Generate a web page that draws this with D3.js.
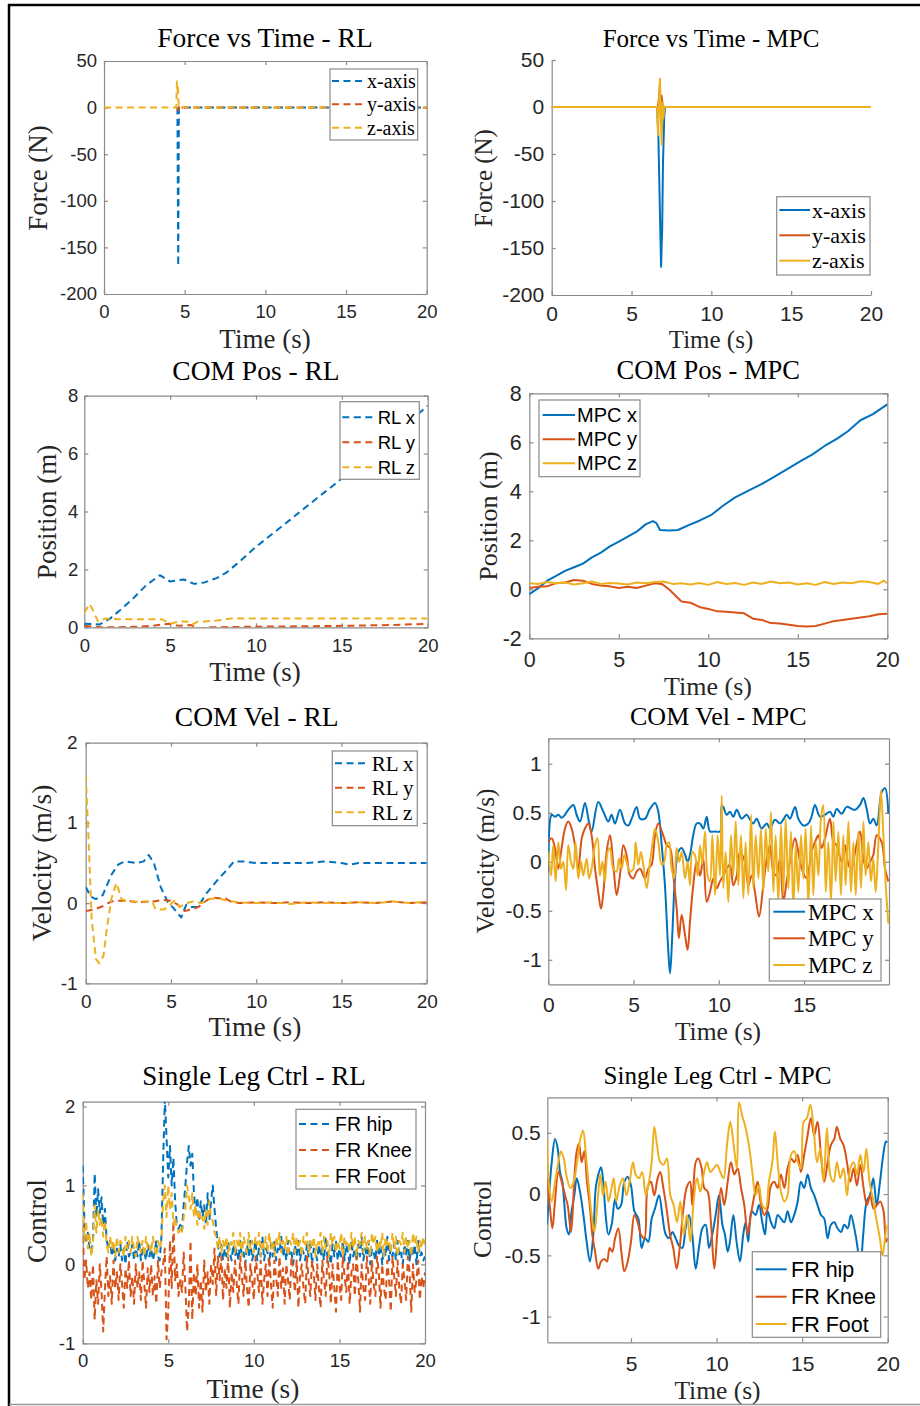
<!DOCTYPE html>
<html><head><meta charset="utf-8">
<script src="https://cdn.jsdelivr.net/npm/d3@7"></script>
<style>body{margin:0;background:#fff}</style></head>
<body>
<script>
// ---------------- DATA ----------------
const seriesNamesForce = ["x-axis","y-axis","z-axis"];
const seriesNamesPosRL = ["RL x","RL y","RL z"];
const seriesNamesPosMPC = ["MPC x","MPC y","MPC z"];
const seriesNamesCtrl = ["FR hip","FR Knee","FR Foot"];

// Force vs Time - RL  [t, N]
const forceRLx = [[4.55,0],[4.6,-170],[4.64,0],[4.7,0],[20,0]];
const forceRLy = [[4.55,0],[4.6,-3],[4.65,2],[4.7,0],[20,0]];
const forceRLz = [[0,0],[4.48,0],[4.52,28],[4.56,18],[4.58,24],[4.62,6],[4.66,0],[20,0]];
// Force vs Time - MPC
const forceMPCx = [[0,0],[6.6,0],[6.68,-30],[6.85,-170],[6.92,-130],[6.97,-60],[7.05,-10],[7.1,0],[20,0]];
const forceMPCy = [[0,0],[6.65,0],[6.72,10],[6.78,25],[6.82,-5],[6.88,12],[6.95,2],[7.05,0],[20,0]];
const forceMPCz = [[0,0],[6.6,0],[6.66,-30],[6.73,10],[6.78,30],[6.83,-8],[6.89,-40],[6.95,5],[7.0,-12],[7.05,0],[20,0]];

// COM Pos - RL
const posRLx = [[0,0.12],[0.9,0.1],[1.5,0.3],[2,0.55],[2.85,1.0],[3.6,1.45],[4.4,1.8],[5,1.58],[5.4,1.62],[5.8,1.65],[6.4,1.5],[7,1.55],[7.7,1.7],[8.3,1.9],[9,2.25],[10,2.78],[11,3.25],[12,3.72],[13,4.2],[14,4.67],[14.5,4.9],[15,5.15],[16,5.65],[17,6.15],[18,6.65],[19,7.15],[20,7.65]];
const posRLy = [[0,0.05],[1,0],[2,0],[3,0.02],[4,0.05],[4.6,0.1],[5,0.12],[5.5,0.05],[6.2,0.08],[6.7,-0.05],[7.2,0],[10,0.02],[15,0.05],[18,0.08],[20,0.12]];
const posRLz = [[0,0.5],[0.3,0.8],[0.5,0.6],[0.8,0.2],[1.2,0.3],[2,0.28],[3,0.28],[4.5,0.28],[5,0.12],[5.5,0.2],[6,0.2],[6.3,0.1],[6.6,0.2],[7,0.2],[8,0.25],[8.5,0.3],[20,0.3]];
// COM Pos - MPC
const posMPCx = [[0,-0.2],[0.5,0.05],[1,0.35],[1.5,0.55],[2,0.75],[2.5,0.9],[3,1.05],[3.5,1.3],[4,1.5],[4.5,1.75],[5,1.95],[5.5,2.15],[6,2.35],[6.5,2.65],[6.9,2.78],[7.1,2.7],[7.3,2.42],[7.8,2.4],[8.3,2.42],[9,2.65],[9.5,2.8],[10.2,3.05],[10.8,3.4],[11.5,3.75],[12.3,4.05],[13,4.3],[13.7,4.6],[14.5,4.95],[15.2,5.25],[15.8,5.5],[16.5,5.85],[17.2,6.15],[17.8,6.45],[18.5,6.9],[19.2,7.15],[20,7.55]];
const posMPCy = [[0,0.05],[0.5,0.1],[1,0.12],[1.5,0.25],[2,0.28],[2.5,0.38],[3,0.35],[3.5,0.22],[4,0.15],[4.5,0.12],[5,0.05],[5.5,0.1],[6,0.05],[6.5,0.15],[7,0.25],[7.4,0.22],[7.8,0],[8.5,-0.5],[9,-0.55],[9.5,-0.72],[10,-0.8],[10.5,-0.9],[11,-0.92],[11.5,-0.95],[12,-0.98],[12.5,-1.2],[13,-1.25],[13.5,-1.38],[14,-1.4],[14.5,-1.45],[15,-1.5],[15.5,-1.52],[16,-1.5],[16.5,-1.4],[17,-1.3],[17.5,-1.25],[18,-1.2],[18.5,-1.15],[19,-1.1],[19.5,-1.02],[20,-1.0]];
const posMPCz = [[0,0.25],[0.5,0.22],[1,0.3],[1.5,0.25],[2,0.28],[2.5,0.2],[3,0.25],[3.5,0.32],[4,0.22],[4.5,0.26],[5,0.24],[5.5,0.2],[6,0.28],[6.5,0.25],[7,0.3],[7.5,0.32],[8,0.22],[8.5,0.25],[9,0.2],[9.5,0.26],[10,0.18],[10.5,0.3],[11,0.22],[11.5,0.26],[12,0.18],[12.5,0.28],[13,0.22],[13.5,0.32],[14,0.25],[14.5,0.28],[15,0.2],[15.5,0.25],[16,0.18],[16.5,0.3],[17,0.22],[17.5,0.28],[18,0.25],[18.5,0.33],[19,0.3],[19.5,0.22],[19.8,0.35],[20,0.25]];

// COM Vel - RL
const velRLx = [[0,0.2],[0.3,0.08],[0.6,0.05],[1,0.1],[1.5,0.35],[1.9,0.48],[2.3,0.52],[3,0.5],[3.4,0.52],[3.7,0.6],[4,0.5],[4.4,0.2],[4.8,0.02],[5.1,-0.05],[5.6,-0.18],[5.9,-0.02],[6.2,-0.05],[6.6,-0.05],[7,0.1],[7.7,0.28],[8.3,0.42],[8.7,0.52],[9.2,0.52],[10,0.5],[12,0.5],[13,0.5],[14,0.52],[15,0.5],[15.5,0.48],[16,0.5],[20,0.5]];
const velRLy = [[0,-0.1],[0.5,-0.08],[1,-0.04],[1.5,0.02],[1.8,0.03],[2.5,0.03],[3,0.01],[4,0.02],[4.5,0.04],[5,0.03],[5.4,-0.02],[5.8,-0.1],[6.2,-0.08],[6.6,-0.05],[7,0.02],[7.4,0.07],[7.8,0.06],[8.2,0.06],[8.5,0.02],[9,0],[10,0.01],[11,0],[12,0.01],[13,0],[14,0.01],[15,0],[16,0.01],[17,0],[18,0.02],[19,0],[20,0.01]];
const velRLz = [[0,1.6],[0.15,0.9],[0.35,-0.2],[0.6,-0.7],[0.8,-0.75],[1.05,-0.65],[1.25,-0.3],[1.5,0.05],[1.8,0.25],[2.1,0.05],[2.5,0.02],[3,0.02],[3.5,0.02],[3.9,0.02],[4.1,-0.08],[4.6,-0.08],[4.9,-0.03],[5.2,0.03],[5.5,-0.05],[5.9,0],[6.3,0.02],[6.8,0],[7.2,0.05],[7.8,0.06],[8.3,0.03],[9,0.01],[10,0],[11,0.01],[12,-0.01],[13,0.01],[14,0],[15,0],[16,0.01],[17,0],[18,0.02],[19,0],[20,0.02]];

// COM Vel - MPC
const velMPCx = [[0,-0.1],[0.2,0.48],[0.39,0.46],[0.59,0.48],[0.78,0.45],[0.98,0.48],[1.17,0.53],[1.47,0.58],[1.66,0.48],[1.86,0.41],[2.15,0.6],[2.35,0.44],[2.54,0.31],[2.93,0.61],[3.23,0.51],[3.52,0.41],[3.71,0.48],[3.91,0.39],[4.2,0.53],[4.5,0.39],[4.69,0.37],[4.89,0.44],[5.18,0.56],[5.38,0.44],[5.67,0.44],[5.96,0.54],[6.26,0.6],[6.45,0.51],[6.65,0.17],[6.84,-0.24],[7.04,-0.92],[7.14,-1.14],[7.27,-0.75],[7.43,-0.17],[7.62,0.1],[7.82,0.14],[8.02,0.07],[8.17,0],[8.31,0.07],[8.5,0.27],[8.7,0.39],[8.9,0.39],[9.09,0.34],[9.29,0.46],[9.48,0.31],[9.78,0.31],[10.07,0.31],[10.17,0.57],[10.26,0.56],[10.46,0.48],[10.65,0.51],[10.85,0.46],[11.05,0.53],[11.34,0.44],[11.63,0.48],[11.83,0.43],[12.02,0.39],[12.22,0.44],[12.51,0.34],[12.81,0.39],[13,0.34],[13.29,0.43],[13.59,0.39],[13.78,0.43],[13.98,0.48],[14.17,0.44],[14.47,0.56],[14.66,0.44],[14.96,0.37],[15.25,0.39],[15.44,0.46],[15.64,0.58],[15.93,0.46],[16.23,0.48],[16.52,0.51],[16.72,0.46],[16.91,0.54],[17.2,0.49],[17.5,0.56],[17.79,0.54],[17.99,0.53],[18.28,0.58],[18.48,0.65],[18.67,0.54],[18.87,0.39],[19.06,0.44],[19.26,0.37],[19.55,0.71],[19.75,0.75],[19.94,0.49]];
const velMPCy = [[0,0.2],[0.2,0.24],[0.39,0.14],[0.59,-0.07],[0.78,0.14],[0.98,0.34],[1.17,0.41],[1.37,0.34],[1.56,0.17],[1.76,-0.07],[1.96,0.24],[2.15,0.34],[2.35,0.39],[2.54,0.27],[2.74,-0.07],[2.93,-0.31],[3.09,-0.48],[3.23,-0.31],[3.42,0.1],[3.62,0.27],[3.81,-0.03],[4.01,-0.34],[4.2,-0.14],[4.4,0.17],[4.59,0.07],[4.79,-0.14],[4.99,-0.17],[5.18,-0.1],[5.38,-0.07],[5.67,-0.17],[5.87,-0.07],[6.06,-0.03],[6.26,0.27],[6.45,0.39],[6.74,0.27],[6.94,0.17],[7.14,0.14],[7.33,-0.14],[7.53,-0.48],[7.66,-0.78],[7.82,-0.54],[8.02,-0.75],[8.17,-0.9],[8.31,-0.61],[8.5,-0.24],[8.7,0],[8.9,-0.14],[9.09,0.03],[9.29,-0.41],[9.48,-0.31],[9.68,-0.17],[9.87,-0.27],[10.07,-0.2],[10.26,-0.14],[10.46,-0.07],[10.65,-0.03],[10.85,-0.24],[11.05,-0.14],[11.24,0.1],[11.53,0],[11.73,-0.24],[11.93,-0.14],[12.12,-0.31],[12.36,-0.56],[12.61,-0.24],[12.81,0.03],[13,0.17],[13.2,-0.1],[13.39,-0.14],[13.59,0.03],[13.78,-0.41],[13.98,-0.2],[14.17,0],[14.47,0.24],[14.66,0.1],[14.86,-0.07],[15.15,-0.17],[15.44,0.1],[15.64,0.2],[15.84,0.27],[16.03,0.14],[16.23,0.24],[16.52,0.44],[16.72,0.2],[16.91,0.17],[17.2,0],[17.4,0.17],[17.6,-0.03],[17.79,-0.07],[17.99,0.1],[18.28,0.31],[18.48,0.03],[18.67,-0.07],[18.87,0],[19.06,0.07],[19.26,0.27],[19.55,0.2],[19.75,-0.07],[19.94,-0.2]];
const velMPCz = [[0,0.1],[0.16,-0.14],[0.29,0.17],[0.43,-0.2],[0.59,0.2],[0.74,-0.07],[0.88,0],[1.04,-0.29],[1.17,0.17],[1.33,0],[1.47,-0.07],[1.6,0.2],[1.76,-0.17],[1.92,0],[2.05,-0.14],[2.25,0.03],[2.39,-0.17],[2.54,-0.07],[2.74,0.17],[2.89,0.24],[3.03,-0.14],[3.17,0],[3.32,-0.2],[3.48,0.1],[3.62,0.14],[3.81,-0.07],[4.01,-0.1],[4.14,0.03],[4.3,-0.07],[4.46,0.07],[4.59,0],[4.79,-0.1],[4.99,-0.07],[5.12,0.2],[5.28,-0.03],[5.43,0.1],[5.57,-0.03],[5.77,-0.27],[5.96,0],[6.1,0.17],[6.26,0.34],[6.45,0.2],[6.65,-0.03],[6.8,0],[6.94,0.17],[7.08,0.2],[7.23,-0.07],[7.39,-0.17],[7.53,0.14],[7.68,0],[7.82,0.1],[8.02,-0.17],[8.17,0],[8.31,-0.24],[8.45,0.1],[8.6,0.07],[8.76,-0.14],[8.9,0.17],[9.03,-0.03],[9.19,0.31],[9.34,-0.14],[9.48,-0.2],[9.62,0.27],[9.78,-0.34],[9.93,0.27],[10.07,-0.14],[10.17,0.68],[10.26,-0.27],[10.4,0.1],[10.56,-0.41],[10.71,0.27],[10.85,-0.14],[10.99,0.41],[11.14,-0.24],[11.3,0.27],[11.44,-0.37],[11.57,0.2],[11.73,-0.34],[11.89,0.48],[12.02,-0.27],[12.16,0.27],[12.32,-0.17],[12.47,0.34],[12.61,-0.31],[12.75,0.34],[12.9,-0.1],[13.06,0.51],[13.2,-0.31],[13.33,0.27],[13.49,-0.41],[13.65,0.37],[13.78,-0.34],[13.92,0.44],[14.08,-0.27],[14.23,0.31],[14.37,-0.48],[14.51,0.17],[14.66,-0.31],[14.82,0.27],[14.96,-0.17],[15.09,0.34],[15.25,-0.44],[15.41,0.37],[15.54,-0.34],[15.68,0.2],[15.84,-0.14],[15.99,0.44],[16.13,0.58],[16.27,-0.31],[16.42,0.2],[16.58,-0.41],[16.72,0.41],[16.85,-0.2],[17.01,0.31],[17.16,-0.34],[17.3,0.27],[17.44,-0.24],[17.6,0.41],[17.75,-0.31],[17.89,0.2],[18.03,-0.34],[18.18,0.31],[18.34,-0.27],[18.48,0.41],[18.61,-0.14],[18.77,0.2],[18.92,-0.2],[19.06,0.03],[19.2,-0.31],[19.36,0.2],[19.51,0.73],[19.65,0.27],[19.79,-0.24],[19.94,-0.63]];

// Single Leg Ctrl - RL (sampled every 0.1 s from t = 0)
const ctrlRLStep = 0.1;
const ctrlRLHip = [1.25,0.55,0.3,0.4,0.2,0.15,0.3,1.15,0.6,0.95, 0.65,0.85,0.5,0.7,0.3,0.2,0.3,0.1,0.25,0.05, 0.2,0.1,0.25,0.05,0.2,0.0,0.3,0.1,0.15,0.25, 0.05,0.2,0.1,0.3,0.05,0.2,0.15,0.05,0.25,0.1, 0.2,0.05,0.15,0.3,0.1,0.05,0.35,1.3,2.1,1.6, 1.1,1.5,1.0,1.35,0.8,0.5,0.45,0.5,0.42,0.75, 1.0,1.3,1.5,1.25,1.4,0.9,0.65,0.85,0.55,0.8, 0.6,0.75,0.5,0.9,0.55,0.8,1.0,0.7,0.45,0.25, 0.1,0.25,0.05,0.2,0.1,0.3,0.15,0.05,0.25,0.1, 0.2,0.05,0.3,0.1,0.15,0.0,0.25,0.1,0.3,0.05, 0.15,0.3,0.05,0.2,0.1,0.35,0.05,0.2,0.15,0.0, 0.25,0.1,0.3,0.05,0.2,0.15,0.35,0.1,0.2,0.05, 0.3,0.1,0.15,0.0,0.25,0.1,0.3,0.05,0.2,0.15, 0.05,0.25,0.1,0.3,0.0,0.2,0.15,0.05,0.25,0.1, 0.2,0.05,0.35,0.1,0.15,0.0,0.25,0.1,0.3,0.05, 0.2,0.1,0.3,0.05,0.25,0.15,0.0,0.3,0.1,0.2, 0.05,0.25,0.1,0.35,0.05,0.2,0.1,0.3,0.0,0.2, 0.15,0.05,0.3,0.1,0.25,0.0,0.2,0.1,0.35,0.05, 0.2,0.1,0.25,0.05,0.3,0.1,0.15,0.0,0.25,0.1, 0.3,0.05,0.2,0.1,0.25,0.0,0.3,0.1,0.15,0.05, 0.1];
const ctrlRLKnee = [0.5,-0.2,0.05,-0.3,-0.1,-0.45,0.0,-0.7,-0.2,-0.5, 0.0,-0.35,-0.85,-0.3,0.1,-0.4,-0.15,-0.5,0.05,-0.3, -0.1,-0.45,0.0,-0.25,-0.55,-0.05,-0.3,0.05,-0.4,-0.15, -0.5,0.0,-0.3,-0.1,-0.45,0.05,-0.25,-0.55,-0.05,-0.35, 0.0,-0.4,-0.15,-0.5,0.05,-0.3,-0.1,0.0,0.2,-0.95, -0.6,0.3,-0.3,0.55,-0.2,0.0,-0.4,-0.2,-0.35,0.15, -0.3,-0.85,-0.5,0.3,-0.7,-0.1,-0.4,0.0,-0.55,-0.2, -0.6,0.05,-0.35,-0.1,-0.5,0.0,-0.25,0.2,-0.4,0.1, -0.2,0.1,-0.45,-0.05,-0.3,0.1,-0.55,-0.1,-0.35,0.05, -0.25,-0.5,0.1,-0.15,-0.4,0.05,-0.3,-0.55,0.0,-0.2, -0.45,0.1,-0.1,-0.35,0.05,-0.5,-0.2,0.0,-0.4,0.1, -0.25,-0.55,0.05,-0.15,-0.4,0.1,-0.3,-0.05,-0.5,0.0, -0.2,-0.45,0.1,-0.1,-0.35,0.05,-0.55,-0.15,0.0,-0.3, -0.5,0.1,-0.2,-0.4,0.05,-0.1,-0.45,0.0,-0.3,-0.55, 0.05,-0.2,-0.4,0.1,-0.1,-0.5,0.0,-0.3,-0.6,0.05, -0.25,-0.45,0.1,-0.15,-0.35,0.05,-0.5,-0.1,0.0,-0.4, 0.1,-0.2,-0.6,0.0,-0.3,-0.45,0.1,-0.15,-0.5,0.05, -0.25,-0.4,0.1,-0.1,-0.55,0.0,-0.3,-0.45,0.05,-0.2, -0.6,0.1,-0.15,-0.4,0.05,-0.3,-0.5,0.0,-0.2,-0.45, 0.1,-0.1,-0.6,0.0,-0.35,-0.2,0.05,-0.45,-0.15,-0.3, -0.1];
const ctrlRLFoot = [0.9,0.3,0.55,0.2,0.4,0.1,0.25,0.75,0.4,0.7, 0.5,0.6,0.35,0.55,0.25,0.15,0.35,0.2,0.3,0.1, 0.35,0.15,0.3,0.25,0.1,0.35,0.2,0.3,0.15,0.35, 0.2,0.1,0.35,0.25,0.15,0.3,0.1,0.35,0.2,0.25, 0.15,0.35,0.2,0.1,0.3,0.2,0.3,0.8,1.0,0.6, 1.0,0.7,0.9,0.5,0.6,0.45,0.4,0.45,0.4,0.6, 0.7,1.0,0.85,0.7,0.9,0.6,0.75,0.5,0.7,0.55, 0.6,0.45,0.7,0.5,0.8,0.6,0.55,0.4,0.35,0.2, 0.35,0.15,0.3,0.2,0.35,0.1,0.3,0.25,0.4,0.15, 0.3,0.2,0.4,0.1,0.35,0.25,0.15,0.4,0.2,0.3, 0.15,0.35,0.25,0.4,0.1,0.3,0.2,0.35,0.15,0.4, 0.2,0.3,0.1,0.35,0.25,0.4,0.15,0.3,0.2,0.35, 0.1,0.3,0.25,0.4,0.15,0.35,0.2,0.3,0.1,0.35, 0.25,0.4,0.15,0.3,0.2,0.35,0.1,0.3,0.25,0.4, 0.15,0.35,0.2,0.3,0.1,0.4,0.25,0.35,0.15,0.3, 0.2,0.4,0.1,0.35,0.25,0.3,0.15,0.4,0.2,0.35, 0.1,0.3,0.25,0.4,0.15,0.35,0.2,0.3,0.1,0.4, 0.25,0.35,0.15,0.3,0.2,0.4,0.1,0.35,0.25,0.3, 0.15,0.4,0.2,0.35,0.1,0.3,0.25,0.4,0.15,0.35, 0.2,0.3,0.1,0.4,0.25,0.35,0.15,0.3,0.2,0.35, 0.25];

// Single Leg Ctrl - MPC  [t, value]
const ctrlMPCHip = [[0.1,-0.25],[0.21,-0.01],[0.37,0.26],[0.56,0.45],[0.72,0.37],[0.85,0.18],[0.99,0.1],[1.11,-0.09],[1.24,-0.28],[1.38,-0.33],[1.53,-0.14],[1.69,-0.01],[1.83,0.13],[2.02,0.02],[2.22,-0.17],[2.41,-0.39],[2.6,-0.55],[2.8,-0.33],[2.94,0.05],[3.09,0.16],[3.25,0.22],[3.38,0.1],[3.52,-0.17],[3.68,-0.33],[3.87,-0.25],[4.07,-0.04],[4.22,-0.12],[4.42,-0.09],[4.61,0.1],[4.81,0.14],[5.0,0.07],[5.2,-0.14],[5.43,-0.2],[5.62,-0.44],[5.82,-0.36],[6.01,-0.39],[6.21,-0.2],[6.4,-0.12],[6.64,-0.01],[6.83,-0.17],[7.03,-0.33],[7.22,-0.36],[7.42,-0.31],[7.61,-0.36],[7.8,-0.42],[8.0,-0.44],[8.19,-0.28],[8.39,-0.17],[8.58,-0.33],[8.78,-0.61],[8.97,-0.44],[9.17,-0.28],[9.36,-0.25],[9.56,-0.44],[9.75,-0.33],[9.95,-0.17],[10.14,-0.01],[10.34,-0.25],[10.49,-0.33],[10.65,-0.47],[10.78,-0.39],[10.98,-0.17],[11.17,-0.39],[11.37,-0.55],[11.56,-0.33],[11.7,-0.23],[11.85,-0.39],[12.05,-0.14],[12.28,-0.17],[12.48,-0.09],[12.67,-0.23],[12.83,-0.33],[12.98,-0.14],[13.18,-0.23],[13.37,-0.28],[13.57,-0.17],[13.76,-0.2],[13.96,-0.23],[14.15,-0.14],[14.35,-0.23],[14.54,-0.17],[14.74,-0.06],[14.93,0.1],[15.12,0.05],[15.32,0.16],[15.51,0.05],[15.71,-0.01],[15.9,-0.09],[16.1,-0.17],[16.29,-0.2],[16.49,-0.36],[16.68,-0.25],[16.88,-0.23],[17.07,-0.28],[17.27,-0.31],[17.46,-0.25],[17.66,-0.28],[17.85,-0.17],[18.05,-0.28],[18.24,-0.44],[18.38,-0.66],[18.57,-0.33],[18.77,-0.06],[18.96,-0.01],[19.16,0.13],[19.35,-0.09],[19.55,0.1],[19.74,0.32],[19.9,0.43],[20,0.42]];
const ctrlMPCKnee = [[0.1,0.13],[0.25,-0.09],[0.41,-0.28],[0.56,-0.06],[0.76,0.18],[0.95,0.1],[1.15,-0.01],[1.3,-0.09],[1.5,-0.31],[1.69,0.13],[1.83,0.35],[1.96,0.41],[2.12,0.26],[2.27,0.35],[2.43,0.1],[2.59,-0.09],[2.74,-0.33],[2.9,-0.47],[3.09,-0.61],[3.25,-0.55],[3.44,-0.53],[3.6,-0.55],[3.75,-0.44],[3.91,-0.47],[4.07,-0.36],[4.26,-0.28],[4.46,-0.5],[4.61,-0.63],[4.81,-0.55],[5.0,-0.39],[5.2,-0.17],[5.39,-0.23],[5.58,-0.33],[5.78,-0.36],[5.97,0.05],[6.17,0.1],[6.36,-0.01],[6.56,0.13],[6.71,0.18],[6.89,0.05],[7.08,-0.12],[7.28,-0.33],[7.47,-0.44],[7.67,-0.61],[7.86,-0.42],[8.06,-0.12],[8.25,0.05],[8.45,0.1],[8.58,-0.09],[8.78,0.26],[8.93,0.29],[9.13,0.21],[9.28,0.05],[9.48,0.02],[9.67,-0.23],[9.87,-0.61],[10.06,-0.28],[10.26,0.05],[10.45,-0.09],[10.65,0.1],[10.84,0.26],[11.04,0.16],[11.23,0.21],[11.43,0.05],[11.62,-0.09],[11.82,-0.33],[12.01,-0.17],[12.21,-0.01],[12.4,0.1],[12.6,-0.09],[12.79,-0.17],[12.98,-0.12],[13.18,0.07],[13.37,0.1],[13.57,0.05],[13.76,0.16],[13.96,0.05],[14.15,0.21],[14.35,0.29],[14.54,0.26],[14.74,0.32],[14.93,0.18],[15.12,0.32],[15.32,0.48],[15.51,0.62],[15.71,0.48],[15.9,0.59],[16.1,0.32],[16.29,0.1],[16.49,0.26],[16.68,0.4],[16.88,0.45],[17.03,0.55],[17.23,0.45],[17.42,0.4],[17.62,0.26],[17.81,0.1],[18.01,0.21],[18.2,0.07],[18.4,0.24],[18.59,0.05],[18.79,-0.09],[18.98,-0.01],[19.17,-0.12],[19.37,-0.09],[19.56,-0.06],[19.76,-0.14],[19.9,-0.39],[20,-0.36]];
const ctrlMPCFoot = [[0.1,0.45],[0.21,0.07],[0.37,-0.06],[0.56,0.1],[0.76,0.26],[0.91,0.35],[1.07,0.29],[1.26,0.13],[1.46,0.05],[1.65,0.1],[1.85,0.26],[2.04,0.45],[2.2,0.52],[2.35,0.35],[2.51,0.1],[2.7,-0.17],[2.86,-0.31],[3.05,-0.06],[3.21,0.16],[3.36,-0.01],[3.52,0.1],[3.68,-0.06],[3.83,0.02],[3.99,0.13],[4.14,-0.06],[4.34,0.07],[4.53,0.13],[4.73,-0.01],[4.92,0.1],[5.12,0.26],[5.27,0.16],[5.47,0.13],[5.66,0.18],[5.86,-0.01],[6.05,0.1],[6.21,0.26],[6.36,0.55],[6.52,0.4],[6.71,0.26],[6.91,0.24],[7.1,0.29],[7.3,-0.01],[7.49,-0.09],[7.69,-0.23],[7.88,-0.06],[8.08,-0.33],[8.27,-0.17],[8.47,-0.39],[8.66,-0.06],[8.86,0.13],[9.05,0.02],[9.25,0.16],[9.44,0.26],[9.63,0.18],[9.83,0.21],[10.02,0.24],[10.22,0.18],[10.41,0.13],[10.61,0.4],[10.8,0.59],[11.0,0.4],[11.19,0.21],[11.31,0.75],[11.5,0.64],[11.7,0.54],[11.89,0.4],[12.09,0.18],[12.28,-0.01],[12.48,0.07],[12.67,-0.09],[12.87,-0.12],[13.06,0.1],[13.26,0.26],[13.41,0.51],[13.57,0.26],[13.76,0.02],[13.96,-0.06],[14.15,-0.01],[14.35,0.32],[14.54,0.35],[14.74,0.26],[14.93,0.21],[15.09,0.59],[15.28,0.62],[15.48,0.73],[15.67,0.54],[15.87,0.26],[16.06,0.37],[16.25,0.1],[16.45,0.54],[16.64,0.16],[16.84,0.1],[17.03,0.26],[17.23,0.13],[17.42,0.21],[17.62,-0.01],[17.81,0.21],[18.01,0.26],[18.2,0.16],[18.4,0.32],[18.59,0.18],[18.75,0.37],[18.94,0.1],[19.14,-0.04],[19.33,-0.2],[19.53,-0.35],[19.7,-0.5],[19.9,-0.3],[20,-0.25]];

// Tick labels
const ticksT20 = [0,5,10,15,20];
const ticksT15 = [0,5,10,15];
const ticksT5to20 = [5,10,15,20];
const ticksForce = [-200,-150,-100,-50,0,50];
const ticksPosRL = [0,2,4,6,8];
const ticksPosMPC = [-2,0,2,4,6,8];
const ticksVelRL = [-1,0,1,2];
const ticksVelMPC = [-1,-0.5,0,0.5,1];
const ticksCtrlRL = [-1,0,1,2];
const ticksCtrlMPC = [-1,-0.5,0,0.5];

// ---------------- DRAWING ----------------
const COL = ["#0072BD","#D95319","#EDB120"];
const SERIF = "'Liberation Serif','Times New Roman',serif";
const SANS = "'Liberation Sans',Arial,Helvetica,sans-serif";
const AXC = "#8a8a8a", TXT = "#262626";
const DASH = "7,4.5";

const svg = d3.select("body").append("svg").attr("width",920).attr("height",1406);
svg.append("rect").attr("width",920).attr("height",1406).attr("fill","#fff");
// figure frame
svg.append("line").attr("x1",9).attr("x2",9).attr("y1",4).attr("y2",1406).attr("stroke","#000").attr("stroke-width",2.5);
svg.append("line").attr("x1",8).attr("x2",920).attr("y1",5).attr("y2",5).attr("stroke","#000").attr("stroke-width",2.5);
svg.append("line").attr("x1",9).attr("x2",920).attr("y1",1404.5).attr("y2",1404.5).attr("stroke","#999").attr("stroke-width",1.5);

let clipN = 0;
function panel(p){
  const x = d3.scaleLinear().domain(p.xd).range([p.l,p.r]);
  const y = d3.scaleLinear().domain(p.yd).range([p.b,p.t]);
  const g = svg.append("g");
  const cid = "clip"+(clipN++);
  g.append("clipPath").attr("id",cid).append("rect")
    .attr("x",p.l).attr("y",p.t).attr("width",p.r-p.l).attr("height",p.b-p.t);
  const TK = 4;
  const styleAxis = sel => {
    sel.selectAll(".domain").attr("stroke",AXC).attr("stroke-width",1.2);
    sel.selectAll(".tick line").attr("stroke",AXC).attr("stroke-width",1.2);
    sel.selectAll(".tick text").attr("fill",TXT).attr("font-family",SANS).attr("font-size",p.tickSize);
  };
  const fmt = d => String(d);
  g.append("g").attr("transform",`translate(0,${p.b})`)
    .call(d3.axisBottom(x).tickValues(p.xt).tickFormat(fmt).tickSizeInner(-TK).tickSizeOuter(0).tickPadding(p.xpad))
    .call(styleAxis);
  g.append("g").attr("transform",`translate(${p.l},0)`)
    .call(d3.axisLeft(y).tickValues(p.yt).tickFormat(fmt).tickSizeInner(-TK).tickSizeOuter(0).tickPadding(p.ypad))
    .call(styleAxis);
  if(p.box){
    g.append("g").attr("transform",`translate(0,${p.t})`)
      .call(d3.axisTop(x).tickValues(p.xt).tickFormat("").tickSizeInner(-TK).tickSizeOuter(0)).call(styleAxis);
    g.append("g").attr("transform",`translate(${p.r},0)`)
      .call(d3.axisRight(y).tickValues(p.yt).tickFormat("").tickSizeInner(-TK).tickSizeOuter(0)).call(styleAxis);
  }
  const line = d3.line().x(d=>x(d[0])).y(d=>y(d[1]));
  if(p.smooth) line.curve(d3.curveCatmullRom.alpha(0.5));
  const lg = g.append("g").attr("clip-path",`url(#${cid})`);
  p.series.forEach((s,i)=>{
    lg.append("path").datum(s).attr("d",line).attr("fill","none")
      .attr("stroke",COL[i]).attr("stroke-width",2).attr("stroke-linejoin","round")
      .attr("stroke-dasharray",p.dashed?DASH:null);
  });
  // title
  g.append("text").attr("x",p.titleX).attr("y",p.titleY).attr("text-anchor","middle")
    .attr("font-family",SERIF).attr("font-size",p.titleSize).attr("fill","#000").text(p.title);
  // x label
  g.append("text").attr("x",p.xlX).attr("y",p.xlY).attr("text-anchor","middle")
    .attr("font-family",SERIF).attr("font-size",p.labelSize).attr("fill",TXT).text("Time (s)");
  // y label
  g.append("text").attr("transform",`translate(${p.ylX},${p.ylY}) rotate(-90)`).attr("text-anchor","middle")
    .attr("font-family",SERIF).attr("font-size",p.labelSize).attr("fill",TXT).text(p.ylabel);
  // legend
  const L = p.legend;
  g.append("rect").attr("x",L.x0).attr("y",L.y0).attr("width",L.x1-L.x0).attr("height",L.y1-L.y0)
    .attr("fill","#fff").attr("stroke",AXC).attr("stroke-width",1.2);
  p.names.forEach((n,i)=>{
    const yy = L.rows[i];
    g.append("line").attr("x1",L.lx0).attr("x2",L.lx1).attr("y1",yy).attr("y2",yy)
      .attr("stroke",COL[i]).attr("stroke-width",2).attr("stroke-dasharray",p.dashed?DASH:null);
    g.append("text").attr("x",L.tx).attr("y",yy).attr("dy","0.35em")
      .attr("font-family",L.serif?SERIF:SANS).attr("font-size",L.size).attr("fill","#000").text(n);
  });
}

const ctrlRLSeries = [ctrlRLHip, ctrlRLKnee, ctrlRLFoot].map(a => a.map((v,i)=>[i*ctrlRLStep, v]));

panel({l:104,r:426.7,t:61,b:294,xd:[0,20],yd:[-200,50],xt:ticksT20,yt:ticksForce,box:true,dashed:true,
  xpad:11,ypad:7,tickSize:18.5,title:"Force vs Time - RL",titleX:265,titleY:47,titleSize:27.5,
  labelSize:27,xlX:265,xlY:348,ylX:47,ylY:178,ylabel:"Force (N)",
  series:[forceRLx,forceRLy,forceRLz],names:seriesNamesForce,
  legend:{x0:330,y0:69,x1:417.7,y1:140,rows:[81,104.3,127.7],lx0:332,lx1:365,tx:367,size:20,serif:true}});

panel({l:551.7,r:871,t:60,b:295,xd:[0,20],yd:[-200,50],xt:ticksT20,yt:ticksForce,box:false,dashed:false,
  xpad:11,ypad:7.5,tickSize:21,title:"Force vs Time - MPC",titleX:711,titleY:47,titleSize:25,
  labelSize:25,xlX:711,xlY:348,ylX:492,ylY:178,ylabel:"Force (N)",
  series:[forceMPCx,forceMPCy,forceMPCz],names:seriesNamesForce,
  legend:{x0:776.7,y0:196.7,x1:870,y1:275,rows:[210,235.3,260.7],lx0:779.3,lx1:810,tx:812,size:22,serif:true}});

panel({l:84.3,r:427.7,t:395.7,b:627.3,xd:[0,20],yd:[0,8],xt:ticksT20,yt:ticksPosRL,box:true,dashed:true,
  xpad:12,ypad:6,tickSize:18.5,title:"COM Pos - RL",titleX:256,titleY:380,titleSize:27.5,
  labelSize:27,xlX:255,xlY:681,ylX:56,ylY:512,ylabel:"Position (m)",
  series:[posRLx,posRLy,posRLz],names:seriesNamesPosRL,
  legend:{x0:340,y0:401.7,x1:419.3,y1:479.3,rows:[417.3,442.3,467.3],lx0:342.3,lx1:375.7,tx:377.7,size:18.5,serif:false}});

panel({l:529.3,r:887.3,t:393.3,b:638.3,xd:[0,20],yd:[-2,8],xt:ticksT20,yt:ticksPosMPC,box:true,dashed:false,
  xpad:13,ypad:7.5,tickSize:21.5,title:"COM Pos - MPC",titleX:708.3,titleY:378.5,titleSize:26.5,
  labelSize:26,xlX:708,xlY:695,ylX:497,ylY:516,ylabel:"Position (m)",
  series:[posMPCx,posMPCy,posMPCz],names:seriesNamesPosMPC,
  legend:{x0:539,y0:400,x1:640,y1:476.7,rows:[415,439.3,463.3],lx0:542.7,lx1:575,tx:577,size:20,serif:false}});

panel({l:85.7,r:426.7,t:742.7,b:983.3,xd:[0,20],yd:[-1,2],xt:ticksT20,yt:ticksVelRL,box:true,dashed:true,
  xpad:11,ypad:8,tickSize:19,title:"COM Vel - RL",titleX:256.7,titleY:726,titleSize:27.5,
  labelSize:27.5,xlX:255,xlY:1036,ylX:51,ylY:863,ylabel:"Velocity (m/s)",
  series:[velRLx,velRLy,velRLz],names:seriesNamesPosRL,
  legend:{x0:332.3,y0:751,x1:417.3,y1:825.7,rows:[763.3,787.7,812.3],lx0:335,lx1:368,tx:371.7,size:21,serif:true}});

panel({l:548.3,r:889,t:738.3,b:984.3,xd:[0,19.98],yd:[-1.25,1.26],xt:ticksT15,yt:ticksVelMPC,box:true,dashed:false,smooth:true,
  xpad:13,ypad:6.5,tickSize:21,title:"COM Vel - MPC",titleX:718.3,titleY:725,titleSize:26,
  labelSize:25.5,xlX:718,xlY:1040,ylX:494,ylY:861,ylabel:"Velocity (m/s)",
  series:[velMPCx,velMPCy,velMPCz],names:seriesNamesPosMPC,
  legend:{x0:769.3,y0:899,x1:881,y1:981,rows:[911.7,938.3,965],lx0:773.3,lx1:805,tx:808,size:23,serif:true}});

panel({l:82.7,r:425,t:1101.7,b:1343.3,xd:[0,20],yd:[-1,2.06],xt:ticksT20,yt:ticksCtrlRL,box:true,dashed:true,
  xpad:11,ypad:7.5,tickSize:18.5,title:"Single Leg Ctrl - RL",titleX:254,titleY:1085,titleSize:27,
  labelSize:27.5,xlX:253,xlY:1398,ylX:46,ylY:1221,ylabel:"Control",
  series:ctrlRLSeries,names:seriesNamesCtrl,
  legend:{x0:296,y0:1109.3,x1:416,y1:1189,rows:[1124,1150,1176],lx0:299,lx1:332.7,tx:335,size:19.5,serif:false}});

panel({l:547.3,r:887.7,t:1097.3,b:1342.3,xd:[0.11,20],yd:[-1.21,0.79],xt:ticksT5to20,yt:ticksCtrlMPC,box:true,dashed:false,smooth:true,
  xpad:14,ypad:6.5,tickSize:21,title:"Single Leg Ctrl - MPC",titleX:717.5,titleY:1083.5,titleSize:25,
  labelSize:25.5,xlX:717.5,xlY:1398.5,ylX:491,ylY:1219,ylabel:"Control",
  series:[ctrlMPCHip,ctrlMPCKnee,ctrlMPCFoot],names:seriesNamesCtrl,
  legend:{x0:752.3,y0:1251.7,x1:880.7,y1:1337.3,rows:[1269.3,1296.7,1324],lx0:755.7,lx1:786.7,tx:791,size:21.5,serif:false}});
</script>
</body></html>
